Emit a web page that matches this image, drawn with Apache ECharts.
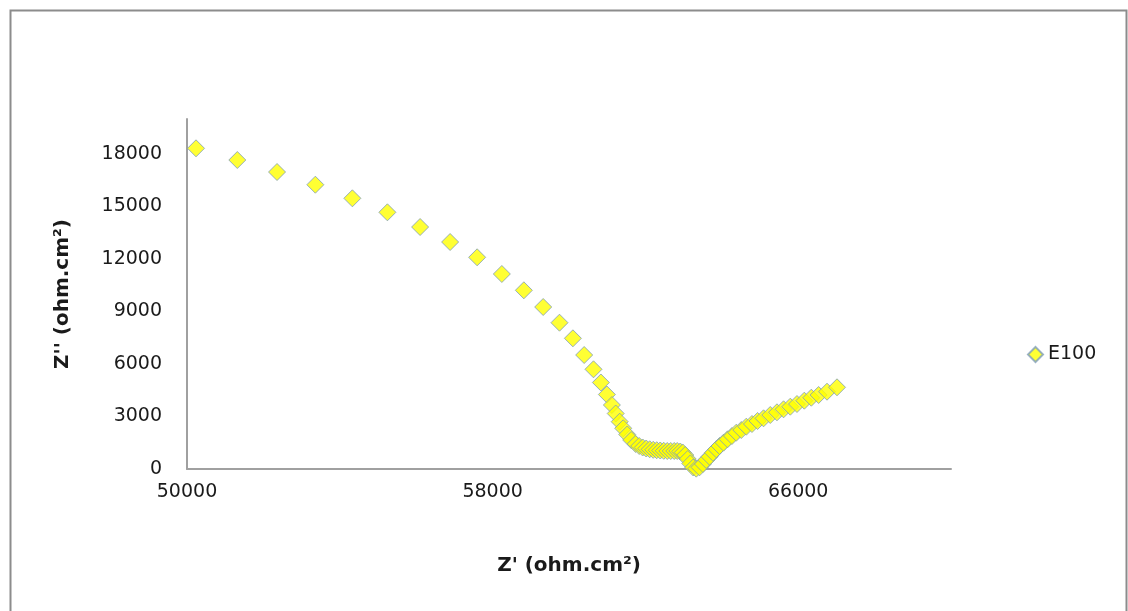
<!DOCTYPE html>
<html>
<head>
<meta charset="utf-8">
<script src="https://cdn.jsdelivr.net/npm/echarts@6/dist/echarts.min.js"></script>
<style>
html,body{margin:0;padding:0;background:#fff;}
#chart{width:1128px;height:611px;}
</style>
</head>
<body>
<div id="chart"></div>
<script>
const seriesName = 'E100';
const xAxisTitle = "Z' (ohm.cm\u00B2)";
const yAxisTitle = "Z'' (ohm.cm\u00B2)";
const zReal = [
  50236, 51317, 52357, 53360, 54329, 55246, 56102, 56888, 57595, 58242,
  58818, 59324, 59751, 60102, 60397, 60641, 60835, 60992, 61123, 61223,
  61327, 61419, 61524, 61628, 61746, 61838, 61929, 62021, 62113, 62205,
  62296, 62388, 62480, 62572, 62663, 62755, 62833, 62912, 62978, 63043,
  63108, 63174, 63253, 63331, 63417, 63506, 63593, 63679, 63768, 63855,
  63941, 64046, 64151, 64266, 64379, 64510, 64641, 64790, 64936, 65093,
  65269, 65444, 65617, 65793, 65968, 66160, 66343, 66534, 66754, 67016
];
const zImag = [
  18325, 17657, 16971, 16245, 15468, 14668, 13828, 12971, 12097, 11143,
  10211, 9257, 8360, 7468, 6514, 5697, 4943, 4257, 3657, 3171,
  2703, 2326, 1971, 1657, 1428, 1314, 1229, 1171, 1126, 1097,
  1074, 1057, 1040, 1029, 1029, 1029, 1029, 1000, 943, 800,
  571, 314, 86, 20, 97, 286, 514, 703, 931, 1126,
  1314, 1503, 1697, 1886, 2074, 2228, 2417, 2571, 2743, 2897,
  3086, 3240, 3411, 3560, 3714, 3903, 4074, 4228, 4417, 4668
];
const xMin = 50000, xMax = 70000, xStep = 8000;
const yMin = 0, yMax = 20000, yStep = 3000;

const points = zReal.map((x, i) => [x, zImag[i]]);
const font = 'DejaVu Sans';
const plain = v => String(v);
const chart = echarts.init(document.getElementById('chart'));
chart.setOption({
  animation: false,
  backgroundColor: '#ffffff',
  graphic: [{
    type: 'rect', left: 8, top: 8,
    shape: { width: 1116, height: 610 },
    style: { fill: 'none', stroke: '#8c8c8c', lineWidth: 2 },
    silent: true
  }],
  grid: { left: 187, top: 119, right: 177, bottom: 142, containLabel: false },
  legend: {
    left: 1022, top: 340,
    orient: 'vertical',
    icon: 'diamond',
    itemWidth: 15, itemHeight: 15, itemGap: 6,
    textStyle: { fontFamily: font, fontSize: 19, color: '#1a1a1a' },
    data: [seriesName]
  },
  xAxis: {
    type: 'value', min: xMin, max: xMax, interval: xStep,
    name: xAxisTitle, nameLocation: 'middle', nameGap: 87,
    nameTextStyle: { fontFamily: font, fontSize: 20, fontWeight: 'bold', color: '#1a1a1a' },
    axisLine: { show: true, lineStyle: { color: '#a0a0a0', width: 2 } },
    axisTick: { show: false },
    splitLine: { show: false },
    axisLabel: { fontFamily: font, fontSize: 19, color: '#1a1a1a', margin: 14, showMaxLabel: false, formatter: plain }
  },
  yAxis: {
    type: 'value', min: yMin, max: yMax, interval: yStep,
    name: yAxisTitle, nameLocation: 'middle', nameGap: 114, nameRotate: 90,
    nameTextStyle: { fontFamily: font, fontSize: 20, fontWeight: 'bold', color: '#1a1a1a' },
    axisLine: { show: true, lineStyle: { color: '#a0a0a0', width: 2 } },
    axisTick: { show: false },
    splitLine: { show: false },
    axisLabel: { fontFamily: font, fontSize: 19, color: '#1a1a1a', margin: 25, showMaxLabel: false, formatter: plain }
  },
  series: [{
    name: seriesName,
    type: 'scatter',
    symbol: 'diamond',
    symbolSize: 17,
    data: points,
    itemStyle: { color: '#ffff00', borderColor: '#7f9db9', borderWidth: 1 }
  }]
});
</script>
</body>
</html>
